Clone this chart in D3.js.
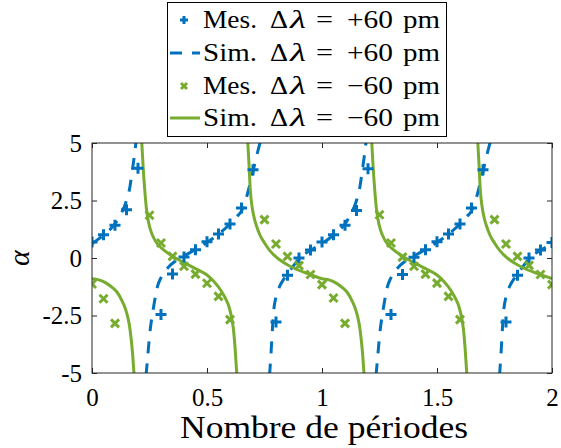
<!DOCTYPE html>
<html><head><meta charset="utf-8">
<script src="https://cdn.jsdelivr.net/npm/d3@7"></script>
<style>body{margin:0;background:#fff;} text{font-family:"Liberation Serif","DejaVu Serif","Times New Roman",serif;fill:#000;}</style>
</head><body><svg id="c" width="561" height="448"></svg>
<script>
// ---- data ----
const xTicks = [0, 0.5, 1, 1.5, 2];
const xTickLabels = ["0", "0.5", "1", "1.5", "2"];
const yTicks = [5, 2.5, 0, -2.5, -5];
const yTickLabels = ["5", "2.5", "0", "-2.5", "-5"];

const blueMesX = [0,0.05,0.1,0.15,0.2,0.3,0.35,0.4,0.45,0.5,0.55,0.6,0.65,0.7,0.8,0.85,0.9,0.95,1.0,1.05,1.1,1.15,1.2,1.3,1.35,1.4,1.45,1.5,1.55,1.6,1.65,1.7,1.8,1.85,1.9,1.95,2.0];
const blueMesY = [0.70,1.01,1.42,2.10,3.90,-2.46,-0.70,0.04,0.36,0.71,1.04,1.48,2.17,3.84,-2.78,-0.75,0.00,0.35,0.70,1.01,1.42,2.07,3.88,-2.46,-0.72,0.03,0.36,0.71,1.04,1.48,2.17,3.84,-2.78,-0.75,0.00,0.35,0.67];

const greenMesX = [0,0.05,0.1,0.25,0.3,0.35,0.4,0.45,0.5,0.55,0.6,0.75,0.8,0.85,0.9,0.95,1.0,1.05,1.1,1.25,1.3,1.35,1.4,1.45,1.5,1.55,1.6,1.75,1.8,1.85,1.9,1.95,2.0];
const greenMesY = [-1.13,-1.77,-2.84,1.86,0.65,0.07,-0.36,-0.70,-1.10,-1.67,-2.68,1.67,0.61,0.07,-0.33,-0.72,-1.16,-1.74,-2.84,1.88,0.65,0.04,-0.36,-0.70,-1.09,-1.67,-2.68,1.67,0.61,0.07,-0.32,-0.72,-1.16];

// simulated blue (+60 pm), one array pair per branch
const blueSim0X = [0,0.05,0.1,0.125,0.15,0.165,0.175,0.185,0.192];
const blueSim0Y = [0.62,1.0,1.48,1.9,2.5,3.1,3.8,4.5,5.1];
const blueSim1X = [0.235,0.243,0.25,0.26,0.27,0.283,0.3,0.33,0.36,0.39,0.42,0.45,0.5,0.55,0.6,0.63,0.65,0.665,0.68,0.695,0.71,0.725,0.733];
const blueSim1Y = [-5.1,-4.2,-3.4,-2.6,-2.0,-1.3,-0.85,-0.42,-0.15,0.03,0.2,0.37,0.68,1.04,1.48,1.8,2.05,2.4,2.95,3.55,4.2,4.8,5.1];
const blueSim2X = [0.772,0.778,0.785,0.79,0.8,0.815,0.83,0.85,0.875,0.9,0.95,1.0,1.05,1.1,1.125,1.15,1.165,1.175,1.185,1.192];
const blueSim2Y = [-5.1,-4.2,-3.0,-2.3,-1.7,-1.25,-0.98,-0.7,-0.35,-0.02,0.33,0.62,1.0,1.48,1.9,2.5,3.1,3.8,4.5,5.1];
const blueSim3X = [1.235,1.243,1.25,1.26,1.27,1.283,1.3,1.33,1.36,1.39,1.42,1.45,1.5,1.55,1.6,1.63,1.65,1.665,1.68,1.695,1.71,1.725,1.733];
const blueSim3Y = [-5.1,-4.2,-3.4,-2.6,-2.0,-1.3,-0.85,-0.42,-0.15,0.03,0.2,0.37,0.68,1.04,1.48,1.8,2.05,2.4,2.95,3.55,4.2,4.8,5.1];
const blueSim4X = [1.772,1.778,1.785,1.79,1.8,1.815,1.83,1.85,1.875,1.9,1.95,2.0];
const blueSim4Y = [-5.1,-4.2,-3.0,-2.3,-1.7,-1.25,-0.98,-0.7,-0.35,-0.02,0.33,0.62];

// simulated green (-60 pm)
const greenSim0X = [0,0.03,0.06,0.09,0.11,0.13,0.145,0.155,0.163,0.17,0.176,0.183];
const greenSim0Y = [-0.9,-0.95,-1.08,-1.3,-1.5,-1.85,-2.2,-2.55,-2.95,-3.5,-4.1,-5.1];
const greenSim1X = [0.216,0.222,0.229,0.236,0.245,0.255,0.272,0.29,0.31,0.35,0.4,0.45,0.5,0.53,0.56,0.58,0.595,0.607,0.615,0.622,0.63];
const greenSim1Y = [5.1,4.0,3.0,2.2,1.6,1.2,0.8,0.55,0.36,0.08,-0.2,-0.46,-0.74,-1.02,-1.4,-1.75,-2.1,-2.6,-3.1,-3.9,-5.1];
const greenSim2X = [0.677,0.683,0.688,0.695,0.705,0.715,0.73,0.75,0.775,0.8,0.833,0.89,0.95,1.0,1.03,1.06,1.09,1.11,1.13,1.145,1.155,1.163,1.17,1.176,1.183];
const greenSim2Y = [5.1,4.0,3.0,2.3,1.75,1.4,1.0,0.65,0.3,0.05,-0.2,-0.5,-0.72,-0.9,-0.95,-1.08,-1.3,-1.5,-1.85,-2.2,-2.55,-2.95,-3.5,-4.1,-5.1];
const greenSim3X = [1.216,1.222,1.229,1.236,1.245,1.255,1.272,1.29,1.31,1.35,1.4,1.45,1.5,1.53,1.56,1.58,1.595,1.607,1.615,1.622,1.63];
const greenSim3Y = [5.1,4.0,3.0,2.2,1.6,1.2,0.8,0.55,0.36,0.08,-0.2,-0.46,-0.74,-1.02,-1.4,-1.75,-2.1,-2.6,-3.1,-3.9,-5.1];
const greenSim4X = [1.677,1.683,1.688,1.695,1.705,1.715,1.73,1.75,1.775,1.8,1.833,1.89,1.95,2.0];
const greenSim4Y = [5.1,4.0,3.0,2.3,1.75,1.4,1.0,0.65,0.3,0.05,-0.2,-0.5,-0.72,-0.9];

const legendLabels = [
  {kind:"plus", sign:"+", word:"Mes."},
  {kind:"dash", sign:"+", word:"Sim."},
  {kind:"cross", sign:"\u2212", word:"Mes."},
  {kind:"solid", sign:"\u2212", word:"Sim."}
];

// ---- drawing ----
const FONT = '"Liberation Serif","DejaVu Serif","Times New Roman",serif';
const BLUE = "#0072BD", GREEN = "#77AC30", AX = "#262626";
const svg = d3.select("#c");
const L = 92, R = 552, T = 143, B = 373;
const x = d3.scaleLinear().domain([0, 2]).range([L, R]);
const y = d3.scaleLinear().domain([-5, 5]).range([B, T]);

svg.append("clipPath").attr("id","clip").append("rect")
  .attr("x", L).attr("y", T).attr("width", R-L).attr("height", B-T);

const zip = (xs, ys) => xs.map((v,i)=>[v, ys[i]]);
const line = d3.line().x(d=>x(d[0])).y(d=>y(d[1])).curve(d3.curveMonotoneX);

const plot = svg.append("g").attr("clip-path","url(#clip)");
const blueBranches = [zip(blueSim0X,blueSim0Y),zip(blueSim1X,blueSim1Y),zip(blueSim2X,blueSim2Y),zip(blueSim3X,blueSim3Y),zip(blueSim4X,blueSim4Y)];
const greenBranches = [zip(greenSim0X,greenSim0Y),zip(greenSim1X,greenSim1Y),zip(greenSim2X,greenSim2Y),zip(greenSim3X,greenSim3Y),zip(greenSim4X,greenSim4Y)];

function plus(g, cx, cy, s, color){
  g.append("path").attr("d", `M${cx-s},${cy}H${cx+s}M${cx},${cy-s}V${cy+s}`)
   .attr("stroke", color).attr("stroke-width", 3).attr("fill","none");
}
function cross(g, cx, cy, s, color){
  g.append("path").attr("d", `M${cx-s},${cy-s}L${cx+s},${cy+s}M${cx-s},${cy+s}L${cx+s},${cy-s}`)
   .attr("stroke", color).attr("stroke-width", 3).attr("fill","none");
}

const mp = svg.append("g").attr("clip-path","url(#clip)");
blueMesX.forEach((v,i)=>plus(mp, x(v), y(blueMesY[i]), 5.5, BLUE));
plot.selectAll("path.bs").data(blueBranches).join("path").attr("class","bs")
  .attr("d", line).attr("fill","none").attr("stroke",BLUE).attr("stroke-width",3)
  .attr("stroke-dasharray","12,10");
greenMesX.forEach((v,i)=>cross(mp, x(v), y(greenMesY[i]), 4, GREEN));
plot.selectAll("path.gs").data(greenBranches).join("path").attr("class","gs")
  .attr("d", line).attr("fill","none").attr("stroke",GREEN).attr("stroke-width",3);

// axes box
const ax = svg.append("g");
ax.append("rect").attr("x",L).attr("y",T).attr("width",R-L).attr("height",B-T)
  .attr("fill","none").attr("stroke",AX).attr("stroke-width",1);
const xa = d3.axisBottom(x).tickValues(xTicks).tickSize(-5).tickFormat((d,i)=>xTickLabels[i]);
const xaTop = d3.axisTop(x).tickValues(xTicks).tickSize(-5).tickFormat("");
const ya = d3.axisLeft(y).tickValues(yTicks).tickSize(-5).tickFormat((d,i)=>yTickLabels[i]);
const yaR = d3.axisRight(y).tickValues(yTicks).tickSize(-5).tickFormat("");
function style(g){ g.select(".domain").remove(); g.selectAll("line").attr("stroke",AX);
  g.selectAll("text").attr("font-size",25).attr("font-family",FONT).attr("fill","#000"); }
const gx = ax.append("g").attr("transform",`translate(0,${B})`).call(xa).call(style);
gx.selectAll("text").attr("y", 33).attr("dy", null);
ax.append("g").attr("transform",`translate(0,${T})`).call(xaTop).call(style);
const gy = ax.append("g").attr("transform",`translate(${L},0)`).call(ya).call(style);
gy.selectAll("text").attr("x", -10).attr("dy", "0.33em");
ax.append("g").attr("transform",`translate(${R},0)`).call(yaR).call(style);

// axis labels
svg.append("text").attr("x", 180).attr("y", 438)
  .attr("font-size", 31).attr("textLength", 288).attr("lengthAdjust","spacingAndGlyphs")
  .text("Nombre de p\u00e9riodes");
svg.append("text").attr("transform","translate(29,258) rotate(-90)").attr("text-anchor","middle")
  .attr("font-size", 30).attr("font-style","italic").text("\u03b1");

// legend
const lg = svg.append("g");
lg.append("rect").attr("x",167.5).attr("y",2.5).attr("width",279).attr("height",134)
  .attr("fill","#fff").attr("stroke","#000").attr("stroke-width",1);
const rowY = [20, 53, 86, 118];
legendLabels.forEach((d,i)=>{
  const cy = rowY[i];
  if(d.kind==="plus") plus(lg, 184, cy, 4, BLUE);
  if(d.kind==="cross") cross(lg, 184, cy, 3, GREEN);
  if(d.kind==="dash") lg.append("line").attr("x1",170).attr("x2",200).attr("y1",cy).attr("y2",cy)
     .attr("stroke",BLUE).attr("stroke-width",3).attr("stroke-dasharray","12,10");
  if(d.kind==="solid") lg.append("line").attr("x1",170).attr("x2",200).attr("y1",cy).attr("y2",cy)
     .attr("stroke",GREEN).attr("stroke-width",3);
  const by = cy + 8;
  const fs = 25;
  const SG = "spacingAndGlyphs";
  lg.append("text").attr("x",203).attr("y",by).attr("font-size",fs).attr("textLength",54).attr("lengthAdjust",SG).text(d.word);
  lg.append("text").attr("x",270).attr("y",by).attr("font-size",fs).attr("textLength",18).attr("lengthAdjust",SG).text("\u0394");
  lg.append("text").attr("x",290).attr("y",by).attr("font-size",fs).attr("font-style","italic").attr("textLength",16).attr("lengthAdjust",SG).text("\u03bb");
  lg.append("text").attr("x",316).attr("y",by).attr("font-size",fs).attr("textLength",17).attr("lengthAdjust",SG).text("=");
  lg.append("text").attr("x",347).attr("y",by).attr("font-size",fs).attr("textLength",46).attr("lengthAdjust",SG).text(d.sign + "60");
  lg.append("text").attr("x",403).attr("y",by).attr("font-size",fs).attr("textLength",37).attr("lengthAdjust",SG).text("pm");
});
</script></body></html>
